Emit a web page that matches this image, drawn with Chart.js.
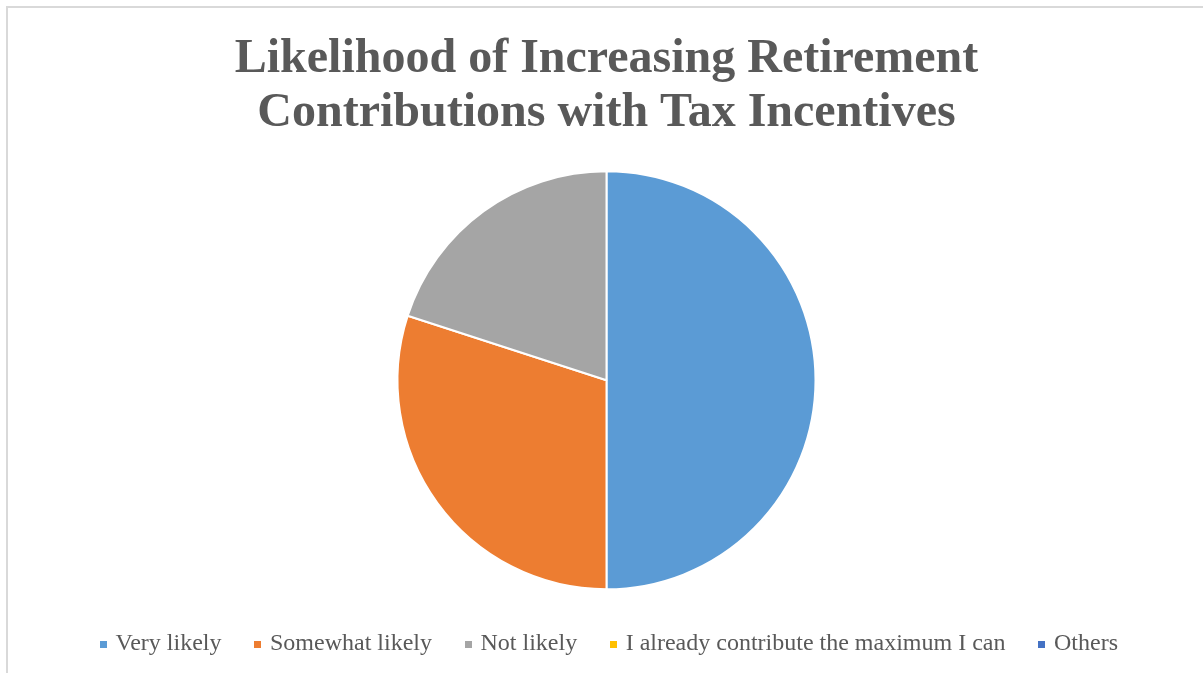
<!DOCTYPE html>
<html>
<head>
<meta charset="utf-8">
<script src="https://cdn.jsdelivr.net/npm/chart.js@4/dist/chart.umd.min.js"></script>
<style>
  html, body { margin: 0; padding: 0; background: #ffffff; overflow: hidden; }
  #frame {
    position: absolute; left: 6px; top: 6px; width: 1210px; height: 680px;
    border: 2px solid #d9d9d9; box-sizing: border-box;
  }
  #wrap { position: absolute; left: 0; top: 0; width: 1203px; height: 673px; }
</style>
</head>
<body>
<div id="frame"></div>
<div id="wrap"><canvas id="chart"></canvas></div>
<script>
// Survey responses: share of respondents (%)
const categories = [
  "Very likely",
  "Somewhat likely",
  "Not likely",
  "I already contribute the maximum I can",
  "Others"
];
const shares = [50, 30, 20, 0, 0];
const sliceColors = ["#5b9bd5", "#ed7d31", "#a5a5a5", "#ffc000", "#4472c4"];
const titleLines = ["Likelihood of Increasing Retirement", "Contributions with Tax Incentives"];

const serif = "'Liberation Serif', 'Times New Roman', serif";

// Small solid squares used as legend markers
function squareMarker(color, size) {
  const c = document.createElement("canvas");
  c.width = size; c.height = size;
  const g = c.getContext("2d");
  g.fillStyle = color;
  g.fillRect(0, 0, size, size);
  return c;
}

// Nudge the legend row slightly to the right
const legendNudge = {
  id: "legendNudge",
  afterLayout(chart) {
    const lg = chart.legend;
    if (lg) { lg.left += 4; lg.right += 4; }
  }
};

new Chart(document.getElementById("chart"), {
  type: "pie",
  data: {
    labels: categories,
    datasets: [{
      data: shares,
      backgroundColor: sliceColors,
      borderColor: "#ffffff",
      borderWidth: 2,
      radius: 209
    }]
  },
  plugins: [legendNudge],
  options: {
    responsive: true,
    maintainAspectRatio: false,
    animation: false,
    layout: { padding: { top: 0, bottom: 7, left: 10, right: 0 } },
    plugins: {
      title: {
        display: true,
        text: titleLines,
        color: "#595959",
        font: { family: serif, size: 48, weight: "bold", lineHeight: 1.12 },
        padding: { top: 33, bottom: 24 }
      },
      legend: {
        position: "bottom",
        labels: {
          color: "#595959",
          font: { family: serif, size: 24 },
          usePointStyle: true,
          pointStyleWidth: 0.5,
          boxHeight: 7,
          padding: 36,
          generateLabels(chart) {
            const base = Chart.overrides.pie.plugins.legend.labels.generateLabels(chart);
            return base.map((item, i) => Object.assign(item, {
              pointStyle: squareMarker(sliceColors[i], 7),
              lineWidth: 0,
              hidden: false
            }));
          }
        }
      },
      tooltip: { enabled: false }
    }
  }
});
</script>
</body>
</html>
